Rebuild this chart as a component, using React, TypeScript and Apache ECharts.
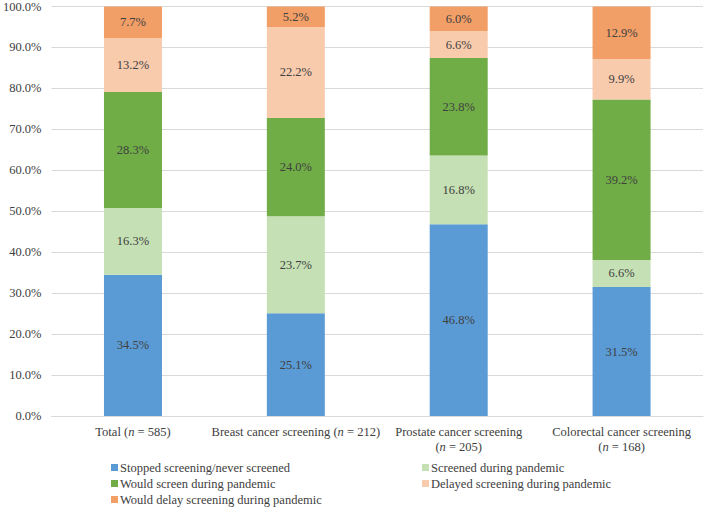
import React, { useEffect, useRef } from "react";
import * as echarts from "echarts";

const categories = [
  "Total ({i|n} = 585)",
  "Breast cancer screening ({i|n} = 212)",
  "Prostate cancer screening\n({i|n} = 205)",
  "Colorectal cancer screening\n({i|n} = 168)",
];
const seriesNames = [
  "Stopped screening/never screened",
  "Screened during pandemic",
  "Would screen during pandemic",
  "Delayed screening during pandemic",
  "Would delay screening during pandemic",
];
const stopped = [34.5, 25.1, 46.8, 31.5];
const screened = [16.3, 23.7, 16.8, 6.6];
const wouldScreen = [28.3, 24.0, 23.8, 39.2];
const delayed = [13.2, 22.2, 6.6, 9.9];
const wouldDelay = [7.7, 5.2, 6.0, 12.9];
const colors = ["#5B9BD5", "#C5E0B4", "#70AD47", "#F8CBAD", "#F29E67"];

const FONT = "Liberation Serif";
const TXT = "#404040";
const FS = 12.5;

// legend slot positions: [left, top]
const legendPos: [number, number][] = [
  [111, 461],
  [422, 461],
  [111, 477],
  [422, 477],
  [111, 493],
];

export default function App() {
  const ref = useRef<HTMLDivElement>(null);
  useEffect(() => {
    if (!ref.current) return;
    const chart = echarts.init(ref.current, null, { renderer: "svg" });
    const values = [stopped, screened, wouldScreen, delayed, wouldDelay];
    chart.setOption({
      animation: false,
      textStyle: { fontFamily: FONT },
      grid: { left: 49, right: 6, top: 6, bottom: 92, containLabel: false },
      xAxis: {
        type: "category",
        data: categories,
        axisLine: { lineStyle: { color: "#D9D9D9" } },
        axisTick: { show: false },
        axisLabel: {
          interval: 0,
          color: TXT,
          fontFamily: FONT,
          fontSize: FS,
          lineHeight: 15,
          margin: 8,
          rich: {
            i: { fontStyle: "italic", fontFamily: FONT, fontSize: FS, color: TXT, lineHeight: 15 },
          },
        },
      },
      yAxis: {
        type: "value",
        min: 0,
        max: 100,
        interval: 10,
        axisLine: { show: false },
        axisTick: { show: false },
        splitLine: { lineStyle: { color: "#D9D9D9" } },
        axisLabel: {
          color: TXT,
          fontFamily: FONT,
          fontSize: FS,
          margin: 10,
          formatter: (v: number) => v.toFixed(1) + "%",
        },
      },
      legend: seriesNames.map((name, i) => ({
        data: [name],
        left: legendPos[i][0],
        top: legendPos[i][1],
        padding: 0,
        itemWidth: 7,
        itemHeight: 7,
        icon: "rect",
        textStyle: { color: TXT, fontFamily: FONT, fontSize: FS, padding: [0, 0, 0, -3] },
      })),
      series: seriesNames.map((name, idx) => ({
        name,
        type: "bar",
        stack: "total",
        barWidth: 58,
        data: values[idx],
        itemStyle: { color: colors[idx] },
        label: {
          show: true,
          position: "inside",
          color: TXT,
          fontFamily: FONT,
          fontSize: FS,
          formatter: (p: any) => p.value.toFixed(1) + "%",
        },
      })),
    });
    return () => chart.dispose();
  }, []);
  return <div ref={ref} style={{ width: 709, height: 508, position: "absolute", left: 0, top: 0 }} />;
}
